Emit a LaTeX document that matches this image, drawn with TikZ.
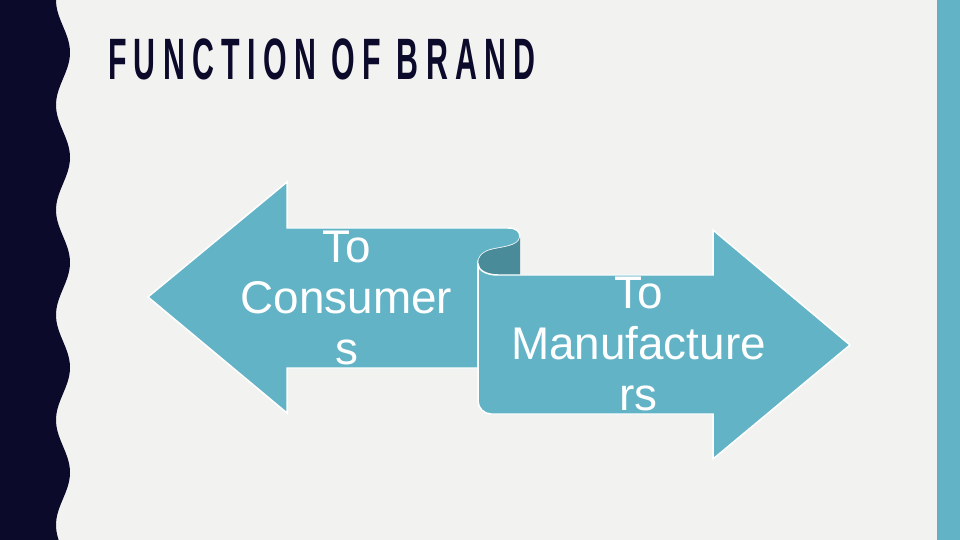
\documentclass[tikz,border=0pt]{standalone}
\usepackage{fontspec}
\setmainfont{Liberation Sans}
\newfontfamily\titlefont[LetterSpace=24]{Liberation Sans}

\begin{document}
\begin{tikzpicture}[x=1bp, y=-1bp,
        arrowtext/.style={text=white, align=center, inner sep=0, font=\fontsize{46}{51}\selectfont},
        ribbon/.style={draw=white, line width=1.5, fill=arrowteal}]
        \definecolor{slidebg}{RGB}{242,242,240}
        \definecolor{navy}{RGB}{11,10,42}
        \definecolor{arrowteal}{RGB}{99,179,198}
        \definecolor{darkteal}{RGB}{74,139,153}

        \useasboundingbox (0,0) rectangle (960,540);
        \fill[slidebg] (0,0) rectangle (960,540);

        % wavy band and side bar
        \fill[navy] (0,0) -- plot[domain=0:540, samples=181] ({63-7*cos(3.42857*\x)}, \x) -- (0,540) -- cycle;
        \fill[arrowteal] (937,0) rectangle (960,540);
        \fill[arrowteal!92!gray] (937,0) rectangle (940,540);

        \node[anchor=base west, xscale=0.52, text=navy, font=\titlefont\bfseries\fontsize{58.6}{60}\selectfont, inner sep=0] (title) at (108,80) {FUNCTION OF BRAND};

        % left arrow with curl
        \draw[ribbon] (148,297) -- (287,182) -- (287,228) -- (508,228)
            .. controls (516,228) and (520,231) .. (520,237)
            .. controls (519,247) and (500,247) .. (490,250)
            .. controls (481,253) and (478,258) .. (478,264)
            -- (478,368) -- (287,368) -- (287,413) -- cycle;
        \fill[darkteal] (520,237) -- (520,275) -- (498,275)
            .. controls (486,275) and (478,270) .. (478,264)
            .. controls (478,258) and (481,253) .. (490,250)
            .. controls (500,247) and (519,247) .. (520,237) -- cycle;

        % right arrow
        \draw[ribbon] (478,264) .. controls (478,270) and (486,275) .. (498,275)
            -- (713,275) -- (713,230) -- (850,345) -- (713,459) -- (713,414)
            -- (491,414) .. controls (484,414) and (478,408) .. (478,401) -- cycle;

        \node[arrowtext] (consumers) at (346.5,298) {To\\Consumer\\s};
        \node[arrowtext] (manufacturers) at (638.5,344) {To\\Manufacture\\rs};
\end{tikzpicture}
\end{document}
